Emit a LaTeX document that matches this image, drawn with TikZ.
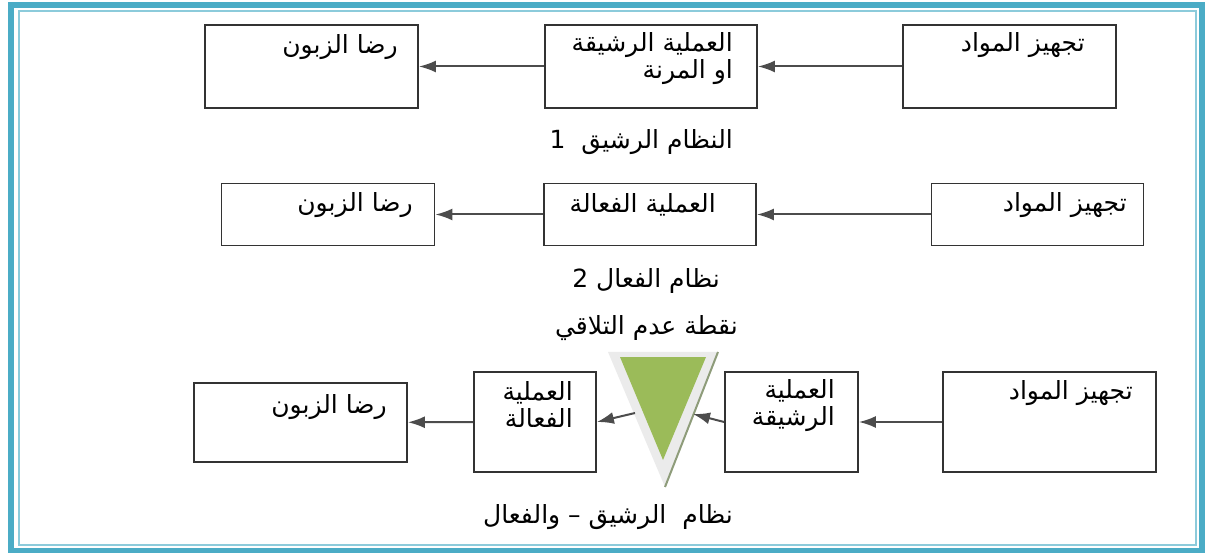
\documentclass[tikz,border=0pt]{standalone}
\usepackage{fontspec}
\newfontfamily\arabicfont[Script=Arabic]{DejaVu Sans}
\TeXXeTstate=1
\usetikzlibrary{arrows.meta}
\definecolor{frameblue}{HTML}{4BACC6}
\definecolor{thinblue}{HTML}{8CCBDB}
\definecolor{trigreen}{HTML}{9BBB59}
\definecolor{trishade}{HTML}{8E9C7A}
\begin{document}
\begin{tikzpicture}[x=1pt,y=-1pt,
	box/.style={draw=black!80, line width=1.8pt, inner sep=0pt},
	txt/.style={font=\arabicfont\fontsize{25}{27}\selectfont, anchor=east, inner sep=0pt, align=right},
	link/.style={-{Latex[length=17pt,width=12pt]}, line width=2pt, black!70}]
	\useasboundingbox (0,0) rectangle (1205,553);
	\draw[frameblue, line width=6.5pt] (11,5) rectangle (1202,551);
	\draw[thinblue, line width=1.3pt] (19,11) rectangle (1196,545);
	
	% row 1
	\node[box, minimum width=213pt, minimum height=83pt] (A1) at (311.5,66.5) {};
	\node[box, minimum width=212pt, minimum height=83pt] (B1) at (651,66.5) {};
	\node[box, minimum width=213pt, minimum height=83pt] (C1) at (1009.5,66.5) {};
	\node[txt] (a1) at (398,47) {\beginR رضا الزبون\endR};
	\node[txt] (b1) at (733,58.5) {\beginR العملية الرشيقة\endR\\\beginR او المرنة\endR};
	\node[txt] (c1) at (1085,45) {\beginR تجهيز المواد\endR};
	\node[txt] (L1) at (733,142) {\beginR النظام الرشيق\ \ 1\endR};
		\draw[link] (C1) -- (B1);
		\draw[link] (B1) -- (A1);
	
	% row 2
	\node[box, minimum width=213pt, minimum height=62pt] (A2) at (328,214.5) {};
	\node[box, minimum width=212pt, minimum height=62pt] (B2) at (650,214.5) {};
	\node[box, minimum width=212pt, minimum height=62pt] (C2) at (1037.5,214.5) {};
	\node[txt] (a2) at (413,205) {\beginR رضا الزبون\endR};
	\node[txt] (b2) at (716,205) {\beginR العملية الفعالة\endR};
	\node[txt] (c2) at (1127,205) {\beginR تجهيز المواد\endR};
	\node[txt] (L2) at (720,281) {\beginR نظام الفعال 2\endR};
		\draw[link] (C2) -- (B2);
		\draw[link] (B2) -- (A2);
	
	% row 3
	\node[txt] (L3) at (738,328) {\beginR نقطة عدم التلاقي\endR};
	\fill[black!8] (608,352) -- (718,352) -- (665,487) -- cycle;
	\draw[trishade, line width=2pt] (718,352) -- (665,487);
	\fill[trigreen] (620,357) -- (706,357) -- (663,460) -- cycle;
	\coordinate (t1) at (635,413);
	\coordinate (t2) at (693,414);
	\node[box, minimum width=213pt, minimum height=79pt] (A3) at (300.5,422.5) {};
	\node[box, minimum width=122pt, minimum height=100pt] (B3) at (535,422) {};
	\node[box, minimum width=133pt, minimum height=100pt] (C3) at (791.5,422) {};
	\node[box, minimum width=213pt, minimum height=100pt] (D3) at (1049.5,422) {};
	\node[txt] (a3) at (387,407) {\beginR رضا الزبون\endR};
	\node[txt] (b3) at (573,405) {\beginR العملية\endR\\\beginR الفعالة\endR};
	\node[txt] (c3) at (835,405.5) {\beginR العملية\endR\\\beginR الرشيقة\endR};
	\node[txt] (d3) at (1133,393) {\beginR تجهيز المواد\endR};
	\node[txt] (L4) at (733,517) {\beginR نظام\ \ الرشيق – والفعال\endR};
		\draw[link] (D3) -- (C3);
		\draw[link] (C3.west) -- (t2);
		\draw[link] (t1) -- (B3.east);
		\draw[link] (B3) -- (A3);
\end{tikzpicture}
\end{document}
